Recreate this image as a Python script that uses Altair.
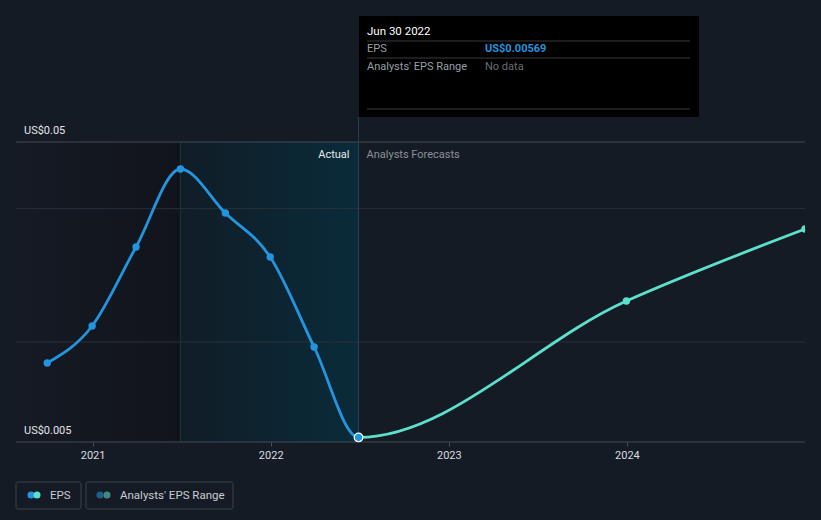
import altair as alt
import pandas as pd

# ---------------- data ----------------
actual_dates = ["2020-09-30", "2020-12-31", "2021-03-31", "2021-06-30",
                "2021-09-30", "2021-12-31", "2022-03-31", "2022-06-30"]
actual_eps = [0.01685, 0.0224, 0.03425, 0.04595, 0.03935, 0.03275, 0.01925, 0.00569]

forecast_dates = ["2023-12-31", "2024-12-31"]
forecast_eps = [0.02615, 0.03695]

x_tick_dates = ["2021-01-01", "2022-01-01", "2023-01-01", "2024-01-01"]
x_domain_dates = ["2020-07-28", "2024-12-31"]
y_domain = [0.005, 0.05]
grid_values = [0.05, 0.04, 0.02, 0.005]
grid_colors = ["#444a54", "#2a303a", "#2a303a", "#444a54"]

past_start = "2020-07-28"
actual_start = "2021-06-30"
actual_end = "2022-06-30"

tooltip_date = "Jun 30 2022"
tooltip_eps = "US$0.00569"

W, H = 789, 300
BG = "#151b25"
BLUE = "#2394df"
TEAL = "#5ce0cc"


def ms(d):
    return int(pd.Timestamp(d, tz="UTC").value // 10**6)


xscale = alt.Scale(type="utc", domain=[ms(d) for d in x_domain_dates])
yscale = alt.Scale(domain=y_domain, nice=False, zero=False)
XAXIS = alt.Axis(values=[ms(d) for d in x_tick_dates], format="%Y", formatType="utc",
                 title=None, domain=False, grid=False, tickColor="#4a505a",
                 tickSize=4, labelColor="#d9dce0", labelFontSize=11,
                 labelPadding=3, labelFont="Roboto")

actual_df = pd.DataFrame({"date": actual_dates, "eps": actual_eps})
actual_df["ts"] = actual_df["date"].map(ms)
fc_df = pd.DataFrame({"date": forecast_dates, "eps": forecast_eps})
fc_df["ts"] = fc_df["date"].map(ms)
full_df = pd.concat([actual_df, fc_df], ignore_index=True)

X = lambda f="ts": alt.X(f"{f}:T", scale=xscale, axis=XAXIS)
Y = lambda f="eps": alt.Y(f"{f}:Q", scale=yscale, axis=None)
one = pd.DataFrame({"a": [0]})

# ---------------- shaded regions ----------------
past_df = pd.DataFrame({"s": [ms(past_start)], "e": [ms(actual_start)], "top": [0.05], "bot": [0.005]})
act_df = pd.DataFrame({"s": [ms(actual_start)], "e": [ms(actual_end)], "top": [0.05], "bot": [0.005]})

past_rect = alt.Chart(past_df).mark_rect(
    fill=alt.Gradient(gradient="linear", x1=0, x2=1, y1=0, y2=0,
                      stops=[alt.GradientStop(color="#151a24", offset=0),
                             alt.GradientStop(color="#11141b", offset=1)])
).encode(x=X("s"), x2="e:T", y=Y("top"), y2="bot:Q")

act_rect = alt.Chart(act_df).mark_rect(
    fill=alt.Gradient(gradient="linear", x1=0, x2=1, y1=0, y2=0,
                      stops=[alt.GradientStop(color="#101d27", offset=0),
                             alt.GradientStop(color="#0a2b3a", offset=1)])
).encode(x=X("s"), x2="e:T", y=Y("top"), y2="bot:Q")

vline1 = alt.Chart(pd.DataFrame({"ts": [ms(actual_start)], "top": [0.05], "bot": [0.005]})).mark_rule(
    color="#1a3441", strokeWidth=1
).encode(x=X(), y=Y("top"), y2="bot:Q")

vline2 = alt.Chart(pd.DataFrame({"ts": [ms(actual_end)]})).mark_rule(
    color="#24444f", strokeWidth=1, clip=False
).encode(x=X(), y=alt.value(-25), y2=alt.value(H))

# ---------------- grid ----------------
grid_df = pd.DataFrame({"v": grid_values, "c": grid_colors,
                        "s": [ms(x_domain_dates[0])] * 4, "e": [ms(x_domain_dates[1])] * 4})
grid = alt.Chart(grid_df).mark_rule(strokeWidth=1).encode(
    x=X("s"), x2="e:T", y=Y("v"), color=alt.Color("c:N", scale=None)
)

# ---------------- line (one monotone curve, coloured by gradient) ----------------
split = (ms(actual_end) - full_df["ts"].min()) / (full_df["ts"].max() - full_df["ts"].min())
eps_line = alt.Chart(full_df).mark_line(
    interpolate="monotone", strokeWidth=2.8,
    stroke=alt.Gradient(gradient="linear", x1=0, x2=1, y1=0, y2=0,
                        stops=[alt.GradientStop(color=BLUE, offset=0),
                               alt.GradientStop(color=BLUE, offset=split),
                               alt.GradientStop(color=TEAL, offset=split),
                               alt.GradientStop(color=TEAL, offset=1)])
).encode(x=X(), y=Y())

fc_pts = alt.Chart(fc_df).mark_circle(color=TEAL, size=55, opacity=1, clip=True).encode(
    x=X(), y=Y()
)
act_pts = alt.Chart(actual_df.iloc[:-1]).mark_circle(color=BLUE, size=55, opacity=1).encode(
    x=X(), y=Y()
)
last_pt = alt.Chart(actual_df.iloc[-1:]).mark_point(
    filled=True, fill=BLUE, stroke="white", strokeWidth=1.2, size=75, opacity=1
).encode(x=X(), y=Y())

# ---------------- texts ----------------
ylab_df = pd.DataFrame({"v": [0.05, 0.005], "t": ["US$0.05", "US$0.005"]})
ylabs = alt.Chart(ylab_df).mark_text(
    align="left", baseline="middle", dy=-11, color="#e3e5e8", fontSize=11, clip=False
).encode(x=alt.value(8), y=Y("v"), text="t:N")

sec_df = pd.DataFrame({"ts": [ms(actual_end)], "v": [0.05]})
actual_lbl = alt.Chart(sec_df).mark_text(
    align="right", baseline="middle", dx=-9, dy=13, color="#e8eaed", fontSize=11
).encode(x=X(), y=Y("v"), text=alt.value("Actual"))
fc_lbl = alt.Chart(sec_df).mark_text(
    align="left", baseline="middle", dx=8, dy=13, color="#8b9097", fontSize=11
).encode(x=X(), y=Y("v"), text=alt.value("Analysts Forecasts"))


def ptext(x, y, t, **kw):
    return alt.Chart(one).mark_text(align="left", baseline="middle", clip=False, **kw).encode(
        x=alt.value(x), y=alt.value(y), text=alt.value(t))


def hrule(x, x2, y, color):
    return alt.Chart(one).mark_rule(color=color, clip=False).encode(
        x=alt.value(x), x2=alt.value(x2), y=alt.value(y))


# ---------------- tooltip box ----------------
tip_box = alt.Chart(one).mark_rect(color="#000000", clip=False).encode(
    x=alt.value(343), x2=alt.value(683), y=alt.value(-126), y2=alt.value(-25)
)
tip_layers = [
    tip_box,
    hrule(351, 674, -101, "#3b3b3b"),
    hrule(351, 674, -84, "#3b3b3b"),
    hrule(351, 674, -33, "#3b3b3b"),
    ptext(351, -110, tooltip_date, fontSize=11.5, color="#ffffff"),
    ptext(351, -93, "EPS", fontSize=11, color="#9a9ea5"),
    ptext(469, -93, tooltip_eps, fontSize=11, color=BLUE, fontWeight="bold"),
    ptext(351, -75, "Analysts' EPS Range", fontSize=11, color="#9a9ea5"),
    ptext(469, -75, "No data", fontSize=11, color="#6a6e74"),
]

# ---------------- legend ----------------
def box(x, x2):
    return alt.Chart(one).mark_rect(fill=BG, stroke="#3c424c", strokeWidth=1, cornerRadius=2, clip=False).encode(
        x=alt.value(x), x2=alt.value(x2), y=alt.value(340), y2=alt.value(367))


def dot(x, c):
    return alt.Chart(one).mark_circle(size=50, opacity=1, color=c, clip=False).encode(
        x=alt.value(x), y=alt.value(353))


legend_layers = [
    box(0, 65), box(70, 217),
    dot(15, BLUE), dot(21, TEAL), dot(84, "#1f5d8c"), dot(91, "#3f8a80"),
    ptext(34, 354, "EPS", fontSize=11.5, color="#c9ccd1"),
    ptext(104, 354, "Analysts' EPS Range", fontSize=11.5, color="#c9ccd1"),
]

chart = alt.layer(
    past_rect, act_rect, vline1, grid, vline2,
    eps_line, fc_pts, act_pts, last_pt,
    ylabs, actual_lbl, fc_lbl,
    *tip_layers, *legend_layers,
).properties(
    width=W, height=H,
    padding={"left": 16, "top": 142, "right": 16, "bottom": 78},
    autosize="none",
    background=BG,
).configure(font="Roboto").configure_view(stroke=None)

chart.save("out.html", embed_options={"renderer": "svg", "actions": False})
